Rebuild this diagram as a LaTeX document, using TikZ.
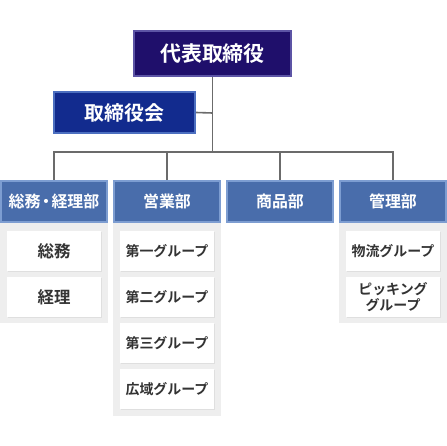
\documentclass[tikz,border=0pt]{standalone}
\usepackage{fontspec}
\setmainfont{Noto Sans CJK JP}[BoldFont={Noto Sans CJK JP Bold}]
\usepackage{tikz}
\usetikzlibrary{shadows}
\definecolor{fondovertice}{HTML}{1F0F6B}
\definecolor{bordovertice}{HTML}{5C54A5}
\definecolor{fondoconsiglio}{HTML}{122B8E}
\definecolor{bordoconsiglio}{HTML}{4C6FC0}
\definecolor{fondoreparto}{HTML}{496DAB}
\definecolor{bordoreparto}{HTML}{7D9DD1}
\definecolor{fondopannello}{HTML}{EEEEEE}
\definecolor{grigiolinea}{HTML}{6B6B6B}
\definecolor{testogruppo}{HTML}{333333}

\begin{document}
\begin{tikzpicture}[x=1bp, y=-1bp,
    every node/.style={rectangle, inner sep=0pt, align=center},
    vertice/.style={draw=bordovertice, line width=2bp, fill=fondovertice, text=white,
      minimum width=157bp, minimum height=45bp, font=\bfseries\fontsize{21}{21}\selectfont},
    consiglio/.style={draw=bordoconsiglio, line width=2bp, fill=fondoconsiglio, text=white,
      minimum width=141bp, minimum height=41bp, font=\bfseries\fontsize{20}{20}\selectfont},
    reparto/.style={draw=bordoreparto, line width=2bp, fill=fondoreparto, text=white,
      minimum width=106bp, minimum height=41bp, font=\bfseries\fontsize{16}{16}\selectfont},
    gruppo/.style={fill=white, text=testogruppo, minimum width=94bp, minimum height=40bp,
      drop shadow={shadow xshift=0.6bp, shadow yshift=-0.8bp, fill=black!18},
      font=\bfseries\fontsize{14}{16.5}\selectfont},
    ufficio/.style={gruppo, font=\bfseries\fontsize{16.5}{16.5}\selectfont},
    pannello/.style={fill=fondopannello},
    linea/.style={draw=grigiolinea, line width=1.6bp}]
      \useasboundingbox (0,0) rectangle (447,446);

      % Pannelli grigi
      \fill[pannello] (0,223) rectangle (108,323);
      \fill[pannello] (113,223) rectangle (221,416);
      \fill[pannello] (339,223) rectangle (447,323);

      % Vertice
      \node (dir) at (212.5,53.5) [vertice] {代表取締役};
      \node (cda) at (124.5,112.5) [consiglio] {取締役会};

      % Reparti
      \node (amm) at (54,201.5) [reparto] {総務\kern-2.5bp・\kern-2.5bp経理部};
      \node (ven) at (167,201.5) [reparto] {営業部};
      \node (prd) at (280,201.5) [reparto] {商品部};
      \node (ges) at (393,201.5) [reparto] {管理部};

      % Gruppi
      \node (sou) at (54,251) [ufficio] {総務};
      \node (kei) at (54,297) [ufficio] {経理};
      \node (g1) at (167,251) [gruppo] {第一グループ};
      \node (g2) at (167,297) [gruppo] {第二グループ};
      \node (g3) at (167,343) [gruppo] {第三グループ};
      \node (g4) at (167,389) [gruppo] {広域グループ};
      \node (log) at (393,251) [gruppo] {物流グループ};
      \node (pik) at (393,297) [gruppo] {ピッキング\\グループ};

      % Collegamenti
      \coordinate (bivio) at (212.5,113);
      \coordinate (snodo) at (212.5,152);
      \draw[linea] (dir.south) -- (snodo);
      \draw[linea] (bivio) -- (cda.east);
      \draw[linea] (amm.north) |- (snodo) -| (ges.north);
      \draw[linea] (ven.north) -- (ven.north |- snodo);
      \draw[linea] (prd.north) -- (prd.north |- snodo);
    \end{tikzpicture}
\end{document}
